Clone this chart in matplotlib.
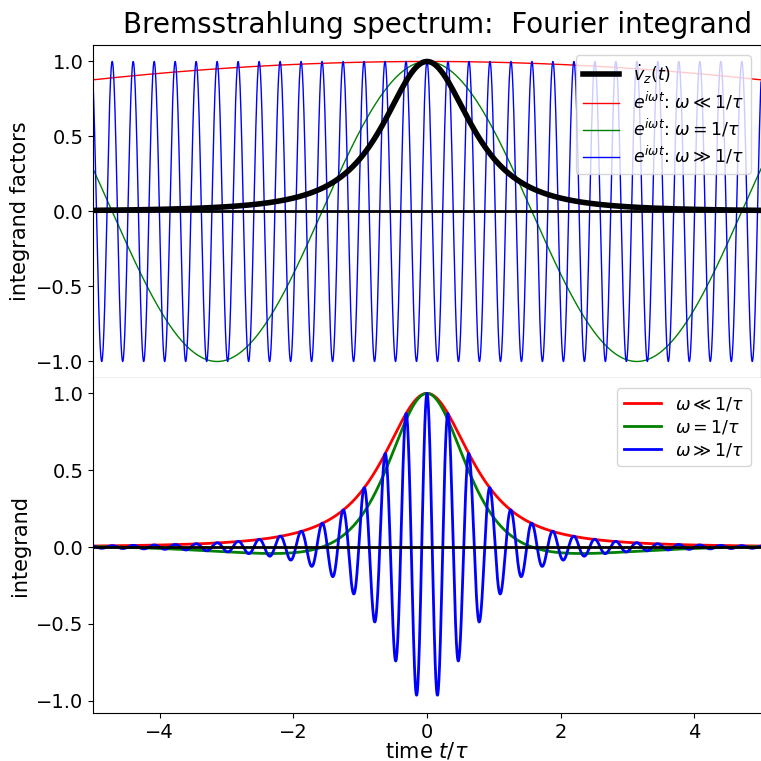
import matplotlib
matplotlib.use("Agg")
import matplotlib.pyplot as plt
import numpy as np

# time grid in units of tau
t_range = [-5, 5]
n_points = 4001

# frequencies (in units of 1/tau) for the three cases
omegas = [0.1, 1.0, 20.0]
colors = ["red", "green", "blue"]
top_labels = [r"$e^{i\omega t}$: $\omega \ll 1/\tau$",
              r"$e^{i\omega t}$: $\omega = 1/\tau$",
              r"$e^{i\omega t}$: $\omega \gg 1/\tau$"]
bottom_labels = [r"$\omega \ll 1/\tau$",
                 r"$\omega = 1/\tau$",
                 r"$\omega \gg 1/\tau$"]
yticks = [-1.0, -0.5, 0.0, 0.5, 1.0]
xticks = [-4, -2, 0, 2, 4]


def vdot(t):
    # transverse acceleration of a passing charge, b/(b^2+v^2t^2)^(3/2)
    return (1 + t**2) ** -1.5


t = np.linspace(t_range[0], t_range[1], n_points)

fig = plt.figure(figsize=(7.61, 7.61), dpi=100)
ax1 = fig.add_axes([0.1222, 0.5033, 0.8778, 0.4376])
ax2 = fig.add_axes([0.1222, 0.0631, 0.8778, 0.4402], sharex=ax1)

# top: the two factors
ax1.plot(t, vdot(t), color="black", lw=4, label=r"$\dot v_z(t)$", zorder=3)
for w, c, lab in zip(omegas, colors, top_labels):
    ax1.plot(t, np.cos(w * t), color=c, lw=1, label=lab)
ax1.axhline(0, color="black", lw=2, zorder=4)
ax1.set_ylim(-1.11, 1.11)
ax1.set_yticks(yticks)
ax1.set_ylabel("integrand factors", fontsize=15)
ax1.tick_params(labelsize=14, labelbottom=False)
ax1.legend(loc="upper right", fontsize=12.5, handlelength=2.1,
           labelspacing=0.28, borderaxespad=0.6)

# bottom: the product
for w, c, lab in zip(omegas, colors, bottom_labels):
    ax2.plot(t, vdot(t) * np.cos(w * t), color=c, lw=2, label=lab)
ax2.axhline(0, color="black", lw=2, zorder=4)
ax2.set_xlim(t_range)
ax2.set_ylim(-1.08, 1.1)
ax2.set_yticks(yticks)
ax2.set_xticks(xticks)
ax2.set_ylabel("integrand", fontsize=15)
ax2.set_xlabel(r"time $t/\tau$", fontsize=15, labelpad=-1)
ax2.tick_params(labelsize=14)
ax2.spines["top"].set_visible(False)
ax2.spines["right"].set_visible(False)
ax2.legend(loc="upper right", fontsize=12.5, handlelength=2.1,
           labelspacing=0.28, borderaxespad=0.6)

fig.text(0.988, 0.985, "Bremsstrahlung spectrum:  Fourier integrand",
         ha="right", va="top", fontsize=20)

fig.savefig("out.png", dpi=100)
